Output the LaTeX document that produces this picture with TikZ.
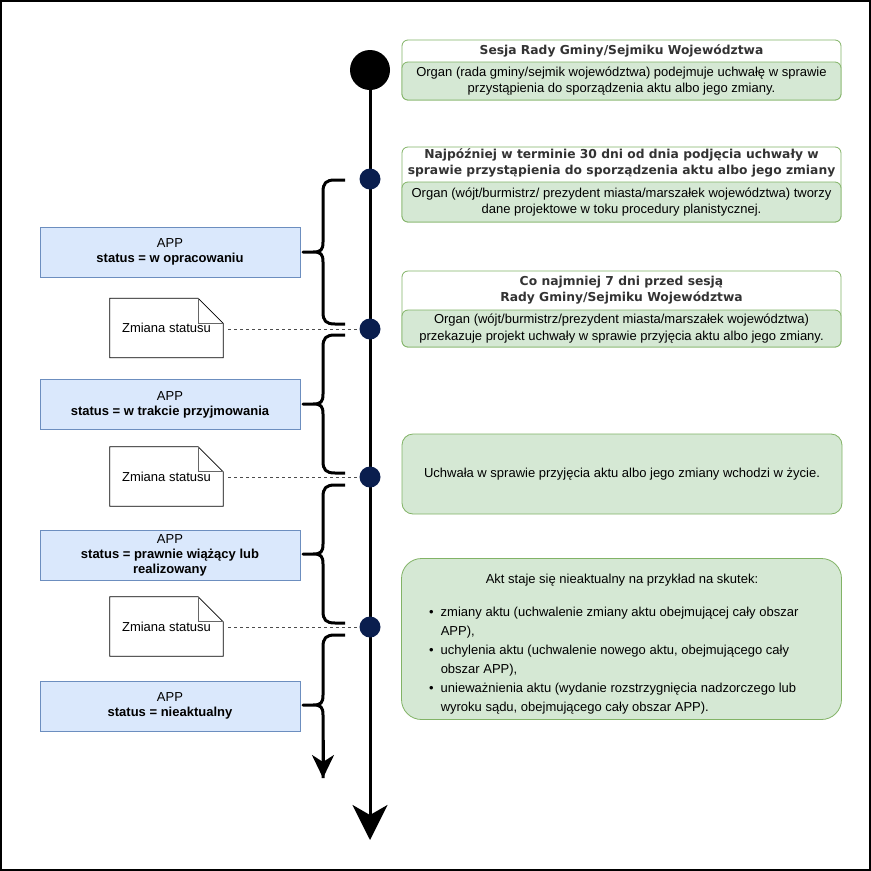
\documentclass[tikz,border=0pt]{standalone}
\usepackage{fontspec}
\setmainfont{Liberation Sans}
\newfontfamily\headfont{DejaVu Sans}
\usetikzlibrary{arrows.meta}
\definecolor{bluefill}{HTML}{DAE8FC}
\definecolor{bluedraw}{HTML}{6C8EBF}
\definecolor{greenfill}{HTML}{D5E8D4}
\definecolor{greendraw}{HTML}{82B366}
\definecolor{navy}{HTML}{0A1E4E}
\definecolor{headtxt}{HTML}{333333}
\newcommand\notefold[1]{%
  \draw[notedraw] (#1.north west) -- ([xshift=-25pt]#1.north east) -- ([yshift=-25pt]#1.north east) -- (#1.south east) -- (#1.south west) -- cycle;
  \draw[foldline] ([xshift=-25pt]#1.north east) -- ([xshift=-25pt,yshift=-25pt]#1.north east) -- ([yshift=-25pt]#1.north east);
  \node[notebox] at (#1.center) {Zmiana statusu};}
\newcommand\mybrace[3]{%
  \draw[bracestyle] (345,#1) -- (335,#1) .. controls (326,#1) and (323,#1+3) .. (323,#1+12)
    -- (323,#2-10) .. controls (323,#2-2) and (321,#2) .. (313,#2) -- (303,#2)
    -- (313,#2) .. controls (321,#2) and (323,#2+2) .. (323,#2+10)
    -- (323,#3-12) .. controls (323,#3-3) and (326,#3) .. (335,#3) -- (345,#3);}
\begin{document}
\begin{tikzpicture}[x=1pt,y=-1pt,
  every node/.style={font=\fontsize{13}{15}\selectfont},
  appbox/.style={draw=bluedraw, fill=bluefill, minimum width=260pt, minimum height=50pt, align=center, inner sep=0pt, line width=0.8pt},
  notebox/.style={minimum width=113pt, minimum height=59pt, inner sep=0pt},
  notedraw/.style={draw=black, fill=white, line width=0.8pt},
  foldline/.style={draw=black!60, line width=0.8pt},
  outerbox/.style={draw=greendraw, fill=white, rounded corners=6pt, minimum width=439pt, inner sep=0pt, line width=0.8pt},
  greenbox/.style={draw=greendraw, fill=greenfill, rounded corners=6pt, minimum width=439pt, align=center, line width=0.8pt, inner sep=0pt, font=\fontsize{13}{16.5}\selectfont},
  headtext/.style={text=headtxt, font=\headfont\bfseries\fontsize{12.3}{15.5}\selectfont, align=center, inner sep=0pt},
  bigdot/.style={circle, fill=black, minimum size=40pt, inner sep=0pt},
  smalldot/.style={circle, fill=navy, minimum size=21pt, inner sep=0pt},
  mainline/.style={line width=3pt, -{Stealth[length=35pt,width=35pt,inset=10pt]}},
  bracestyle/.style={line width=3pt, line join=round},
  dashline/.style={draw=black!70, line width=0.8pt, dash pattern=on 3pt off 3pt, shorten <=5pt}
]
\useasboundingbox (0,0) rectangle (871,871);
\fill[white] (0,0) rectangle (871,871);
\draw[line width=2pt] (1,1) rectangle (870,870);

% main timeline
\coordinate (top) at (370,70);
\coordinate (bot) at (370,840);
\draw[mainline] (top) -- (bot);
\node[bigdot] (c0) at (top) {};
\node[smalldot] (c1) at (370,179) {};
\node[smalldot] (c2) at (370,329) {};
\node[smalldot] (c3) at (370,477) {};
\node[smalldot] (c4) at (370,627) {};

% braces
\mybrace{180}{252}{324}
\mybrace{335}{404}{473}
\mybrace{485}{554}{623}
\coordinate (arr2) at (323,778);
\draw[bracestyle] (345,635) -- (335,635) .. controls (326,635) and (323,638) .. (323,647)
    -- (323,695) .. controls (323,703) and (321,705) .. (313,705) -- (303,705)
    -- (313,705) .. controls (321,705) and (323,707) .. (323,715) -- (arr2);
\draw[line width=3pt, -{Stealth[length=23pt,width=22pt,inset=7pt]}] (323,740) -- (arr2);

% APP boxes
\node[appbox] (app1) at (170,252) {APP\\\textbf{status = w opracowaniu}};
\node[appbox] (app2) at (170,404.5) {APP\\\textbf{status = w trakcie przyjmowania}};
\node[appbox] (app3) at (170,555) {APP\\\textbf{status = prawnie wiążący lub}\\\textbf{realizowany}};
\node[appbox] (app4) at (170,706) {APP\\\textbf{status = nieaktualny}};

% notes
\node[notebox] (n1) at (166.5,328) {};
\notefold{n1}
\node[notebox] (n2) at (166.5,476.5) {};
\notefold{n2}
\node[notebox] (n3) at (166.5,626.5) {};
\notefold{n3}
\draw[dashline] (n1.east |- c2.west) -- (c2.west);
\draw[dashline] (n2.east |- c3.west) -- (c3.west);
\draw[dashline] (n3.east |- c4.west) -- (c4.west);

% right boxes
\node[outerbox, minimum height=60pt] (oa) at (621.5,70) {};
\node[greenbox, minimum height=38pt] (ga) at (621.5,81) {Organ (rada gminy/sejmik województwa) podejmuje uchwałę w sprawie\\przystąpienia do sporządzenia aktu albo jego zmiany.};
\node[headtext] (ha) at (621.5,51) {Sesja Rady Gminy/Sejmiku Województwa};

\node[outerbox, minimum height=75pt] (ob) at (621.5,184.5) {};
\node[greenbox, minimum height=40pt] (gb) at (621.5,202) {Organ (wójt/burmistrz/ prezydent miasta/marszałek województwa) tworzy\\dane projektowe w toku procedury planistycznej.};
\node[headtext] (hb) at (621.5,163) {Najpóźniej w terminie 30 dni od dnia podjęcia uchwały w\\sprawie przystąpienia do sporządzenia aktu albo jego zmiany};

\node[outerbox, minimum height=76pt] (oc) at (621.5,309) {};
\node[greenbox, minimum height=37pt] (gc) at (621.5,328.5) {Organ (wójt/burmistrz/prezydent miasta/marszałek województwa)\\przekazuje projekt uchwały w sprawie przyjęcia aktu albo jego zmiany.};
\node[headtext] (hc) at (621.5,290) {Co najmniej 7 dni przed sesją\\Rady Gminy/Sejmiku Województwa};

\node[greenbox, rounded corners=11pt, minimum width=440pt, minimum height=80pt] (gd) at (622,474) {Uchwała w sprawie przyjęcia aktu albo jego zmiany wchodzi w życie.};

\node[greenbox, rounded corners=20pt, minimum width=440pt, minimum height=161pt] (ge) at (621.5,639) {};
\node[inner sep=0pt] (te) at (622,580) {Akt staje się nieaktualny na przykład na skutek:};
\node[anchor=base west, inner sep=0pt, font=\fontsize{13}{19}\selectfont] (le) at (429,616) {\begin{tabular}[t]{@{}l@{\hspace{7pt}}l@{}}
\textbullet & zmiany aktu (uchwalenie zmiany aktu obejmującej cały obszar\\
& APP),\\
\textbullet & uchylenia aktu (uchwalenie nowego aktu, obejmującego cały\\
& obszar APP),\\
\textbullet & unieważnienia aktu (wydanie rozstrzygnięcia nadzorczego lub\\
& wyroku sądu, obejmującego cały obszar APP).
\end{tabular}};
\end{tikzpicture}
\end{document}
